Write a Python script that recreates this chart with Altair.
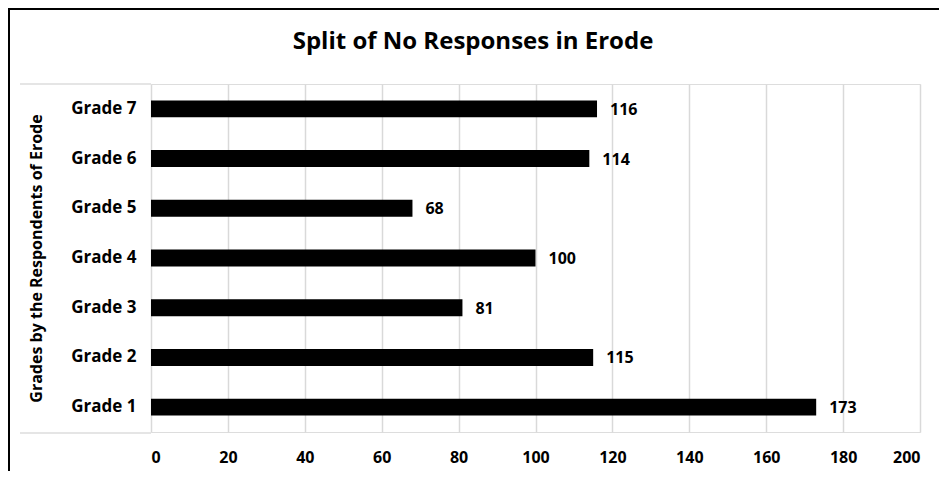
import altair as alt
import pandas as pd

grades = ["Grade 7", "Grade 6", "Grade 5", "Grade 4", "Grade 3", "Grade 2", "Grade 1"]
counts = [116, 114, 68, 100, 81, 115, 173]
x_ticks = [0, 20, 40, 60, 80, 100, 120, 140, 160, 180, 200]
title_text = ["Split of No Responses in Erode"]

df = pd.DataFrame({"grade": grades, "count": counts})
one = pd.DataFrame({"k": [0]})
tdf = pd.DataFrame({"t": title_text})

FONT = "Open Sans"
FS = 16
W, H = 769, 348

y_enc = alt.Y(
    "grade:N",
    sort=grades,
    scale=alt.Scale(paddingInner=0.66, paddingOuter=0.33),
    axis=alt.Axis(
        title="Grades by the Respondents of Erode",
        titleFont=FONT, titleFontSize=FS, titleFontWeight="bold", titleColor="#000000",
        titleAngle=270, titleX=-115, titleY=H / 2, titleAlign="center", titleBaseline="middle",
        labelFont=FONT, labelFontSize=17, labelFontWeight="bold", labelColor="#000000",
        labelPadding=15, domain=False, ticks=False, grid=False,
    ),
)
x_enc = alt.X(
    "count:Q",
    scale=alt.Scale(domain=[0, 200], nice=False),
    axis=alt.Axis(
        title=None, values=x_ticks,
        labelFont=FONT, labelFontSize=FS, labelFontWeight="bold", labelColor="#000000",
        labelPadding=17, domain=False, ticks=False,
        grid=True, gridColor="#d9d9d9", gridWidth=1.5,
    ),
)

frame_top = alt.Chart(one).mark_rect(color="#000000").encode(
    x=alt.value(-143), x2=alt.value(W + 19), y=alt.value(-76), y2=alt.value(-74)
)
frame_left = alt.Chart(one).mark_rect(color="#000000").encode(
    x=alt.value(-143), x2=alt.value(-141), y=alt.value(-76), y2=alt.value(H + 39)
)
box_top = alt.Chart(one).mark_rule(color="#dcdcdc", strokeWidth=1.5).encode(
    x=alt.value(-131), x2=alt.value(0), y=alt.value(0)
)
box_bot = alt.Chart(one).mark_rule(color="#dcdcdc", strokeWidth=1.5).encode(
    x=alt.value(-131), x2=alt.value(0), y=alt.value(H + 1)
)
title = alt.Chart(tdf).mark_text(
    align="center", baseline="middle", font=FONT, fontSize=24, fontWeight="bold", color="#000000"
).encode(x=alt.value(322), y=alt.value(-42), text="t:N")

bars = alt.Chart(df).mark_bar(color="#000000").encode(x=x_enc, y=y_enc)
labels = alt.Chart(df).mark_text(
    align="left", baseline="middle", dx=13, dy=1,
    font=FONT, fontSize=FS, fontWeight="bold", color="#000000",
).encode(x="count:Q", y=alt.Y("grade:N", sort=grades), text="count:Q")

chart = (
    alt.layer(frame_top, frame_left, box_top, box_bot, title, bars, labels)
    .properties(
        width=W, height=H,
        autosize=alt.AutoSizeParams(type="none"),
        padding={"left": 143, "top": 76, "right": 19, "bottom": 39},
    )
    .configure_view(stroke=None)
    .configure(background="#ffffff")
)

chart.save("out.html", embed_options={"renderer": "svg", "actions": False})
